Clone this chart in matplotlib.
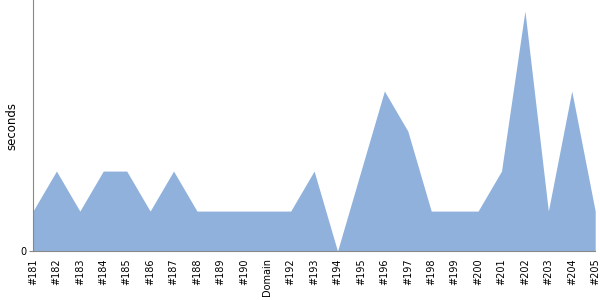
import matplotlib
matplotlib.use("Agg")
import matplotlib.pyplot as plt

labels = ["#181", "#182", "#183", "#184", "#185", "#186", "#187", "#188", "#189", "#190",
          "Domain", "#192", "#193", "#194", "#195", "#196", "#197", "#198", "#199", "#200",
          "#201", "#202", "#203", "#204", "#205"]
seconds = [1, 2, 1, 2, 2, 1, 2, 1, 1, 1,
           1, 1, 2, 0, 2, 4, 3, 1, 1, 1,
           2, 6, 1, 4, 1]

fig = plt.figure(figsize=(6, 3), dpi=100)
ax = fig.add_axes([0.055, 0.163, 0.937, 0.837])
x = list(range(len(labels)))
ax.fill_between(x, seconds, 0, color="#8fb1db", linewidth=0)
ax.set_xlim(0, len(labels) - 1)
ax.set_ylim(0, 6.275)
ax.set_xticks(x)
ax.set_xticklabels(labels, rotation=90, fontsize=7)
ax.tick_params(axis="x", length=0, pad=5)
ax.set_yticks([0])
ax.set_yticklabels(["0"], fontsize=7)
ax.tick_params(axis="y", length=3, color="#888888", pad=2)
ax.set_ylabel("seconds", fontsize=8.5)
ax.yaxis.set_label_coords(-0.026, 0.5)
for s in ["top", "right"]:
    ax.spines[s].set_visible(False)
for s in ["left", "bottom"]:
    ax.spines[s].set_color("#888888")
fig.savefig("out.png", dpi=100)
